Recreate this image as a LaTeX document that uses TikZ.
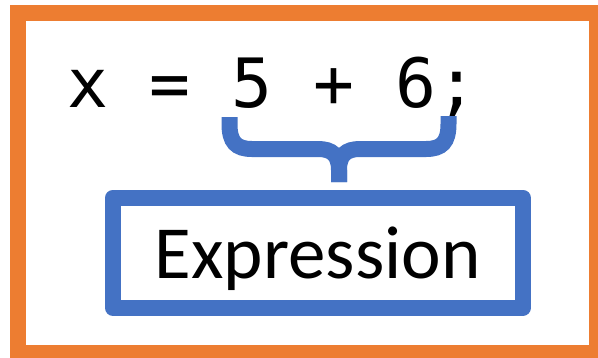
\documentclass[tikz,border=0pt]{standalone}
\usepackage{fontspec}
\setmainfont{Carlito}
\newfontfamily\codefont{DejaVu Sans Mono}
\usepackage{tikz}
\usetikzlibrary{positioning,calc}
\definecolor{frameorange}{RGB}{237,125,49}
\definecolor{exprblue}{RGB}{68,114,196}
\tikzstyle{outerframe} = [draw=frameorange,line width=16pt]
\tikzstyle{exprbox} = [draw=exprblue,line width=16pt,line join=round,inner sep=0,minimum width=410pt,minimum height=110pt]
\tikzstyle{bracepath} = [draw=exprblue,line width=16pt,line cap=butt]

\begin{document}
\begin{tikzpicture}[x=1pt,y=-1pt]

% Canvas
\useasboundingbox (0,0) rectangle (598,357);
\fill[white] (0,0) rectangle (598,357);

% Orange frame
\draw[outerframe] (18,13) rectangle (597,353);

% Statement
\node[anchor=base west, inner sep=0, font=\codefont\fontsize{68}{80}\selectfont] (code) at (67.5,107) {x = 5 + 6;};

% Brace under the right-hand side
\coordinate (braceL) at (229.5,117);
\coordinate (braceR) at (448.5,116);
\coordinate (braceTip) at (339,182);
\draw[bracepath] (braceL) -- (229.5,124) .. controls (229.5,142) and (236,149) .. (252,149)
  -- (318,149) .. controls (332,149) and (339,155) .. (339,170) -- (braceTip);
\draw[bracepath] (braceR) -- (448.5,124) .. controls (448.5,142) and (442,149) .. (426,149)
  -- (360,149) .. controls (346,149) and (339,155) .. (339,170) -- (braceTip);

% Expression box
\node[exprbox] (box) at (317.8,252.7) {};
\node[anchor=base, inner sep=0, font=\fontsize{75}{90}\selectfont] (expr) at (317.8,278) {Expression};

\end{tikzpicture}
\end{document}
